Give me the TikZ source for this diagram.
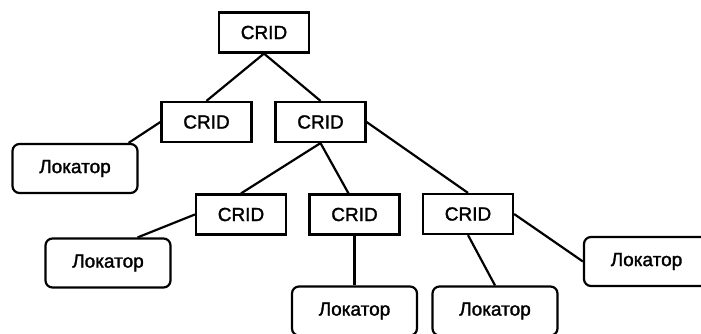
\documentclass[tikz,border=0pt]{standalone}
\usepackage{fontspec}
\setmainfont[FakeBold=1.6]{Liberation Sans}
\tikzset{
  crid/.style={draw, line width=2.2pt, minimum width=90pt, minimum height=40pt, inner sep=0pt, font=\fontsize{19}{22}\selectfont},
  loc/.style={draw, line width=2.2pt, rounded corners=7pt, minimum width=125pt, minimum height=49pt, inner sep=0pt, font=\fontsize{19}{22}\selectfont},
  link/.style={line width=2.2pt}
}
\begin{document}
\begin{tikzpicture}[x=1pt,y=-1pt]
\useasboundingbox (0,0) rectangle (701,334);
\clip (0,0) rectangle (701,334);
\node[crid] (c0) at (264,32.5) {CRID};
\node[crid] (c1) at (206.5,122) {CRID};
\node[crid] (c2) at (320.5,122) {CRID};
\node[crid] (c3) at (241,214.5) {CRID};
\node[crid] (c4) at (354.5,214.5) {CRID};
\node[crid] (c5) at (468,214) {CRID};
\node[loc] (l1) at (75,168.5) {Локатор};
\node[loc] (l2) at (108,263) {Локатор};
\node[loc] (l3) at (354.5,311) {Локатор};
\node[loc] (l4) at (495,311) {Локатор};
\node[loc] (l5) at (646.5,261.5) {Локатор};
\draw[link] (c0.south) -- (c1.north);
\draw[link] (c0.south) -- (c2.north);
\draw[link] (c1.west) -- ([xshift=-10pt]l1.north east);
\draw[link] (c2.east) -- (c5.north);
\draw[link] (c2.south) -- (c3.north);
\draw[link] (c2.south) -- ([xshift=-6pt]c4.north);
\draw[link] (c3.west) -- ([xshift=-34pt]l2.north east);
\draw[link] (c4.south) -- (l3.north);
\draw[link] (c5.south) -- (l4.north);
\draw[link] (c5.east) -- (l5.west);
\end{tikzpicture}
\end{document}
